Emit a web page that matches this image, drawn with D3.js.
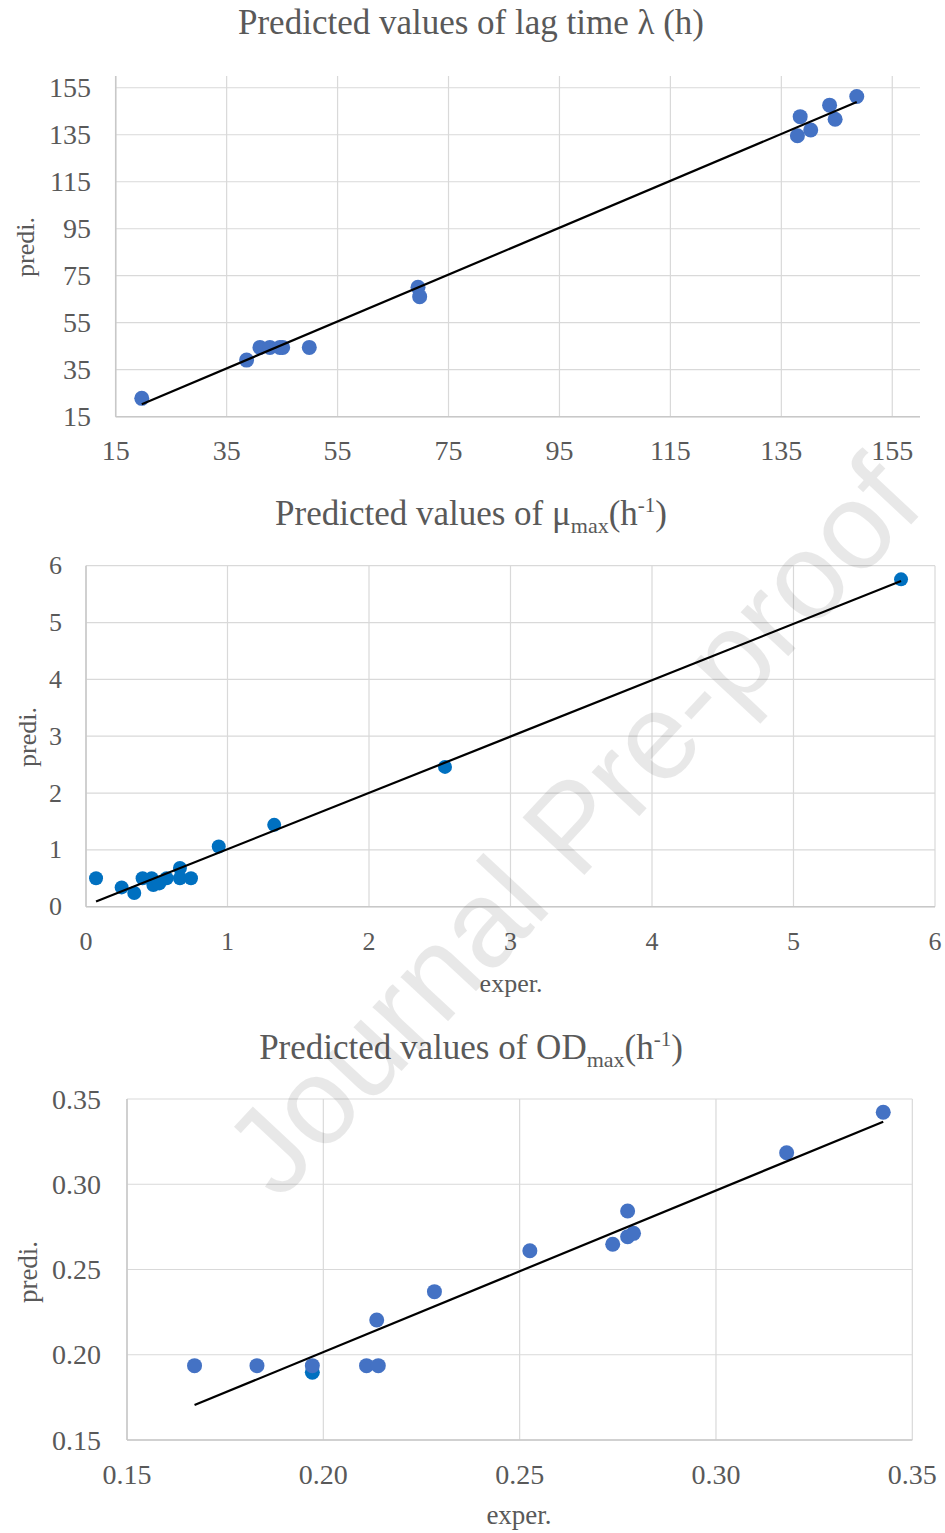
<!DOCTYPE html>
<html>
<head>
<meta charset="utf-8">
<script src="https://cdn.jsdelivr.net/npm/d3@7"></script>
<style>
  html, body { margin: 0; padding: 0; background: #fff; }
  svg { display: block; }
  text { font-family: "Liberation Serif", "Times New Roman", serif; fill: #595959; }
</style>
</head>
<body>
<script>
// lag time λ (h)
const lagExper = [19.7, 38.6, 41.0, 42.8, 44.6, 45.1, 49.9, 69.5, 69.8, 138.4, 137.9, 140.3, 143.7, 144.7, 148.6];
const lagPredi = [22.8, 39.1, 44.5, 44.5, 44.5, 44.5, 44.5, 70.1, 66.1, 142.7, 134.6, 137.0, 147.6, 141.6, 151.3];
const lagFit = [[19.7, 20.3], [148.6, 148.9]];
const lagTicks = [15, 35, 55, 75, 95, 115, 135, 155];

// μmax (h-1)
const muExper = [0.071, 0.252, 0.341, 0.40, 0.464, 0.476, 0.518, 0.57, 0.664, 0.664, 0.742, 0.938, 1.33, 2.537, 5.76];
const muPredi = [0.50, 0.34, 0.24, 0.50, 0.50, 0.38, 0.41, 0.50, 0.68, 0.50, 0.50, 1.06, 1.44, 2.46, 5.76];
const muFit = [[0.071, 0.09], [5.76, 5.73]];
const muTicks = [0, 1, 2, 3, 4, 5, 6];

// ODmax
const odExper = [0.1672, 0.1831, 0.1972, 0.2110, 0.2140, 0.2136, 0.2283, 0.2526, 0.2737, 0.2775, 0.2775, 0.2790, 0.3180, 0.3426];
const odPredi = [0.1936, 0.1936, 0.1936, 0.1936, 0.1936, 0.2204, 0.2370, 0.2610, 0.2648, 0.2843, 0.2692, 0.2712, 0.3185, 0.3422];
const odExper2 = [0.1972];
const odPredi2 = [0.1897];
const odFit = [[0.1672, 0.1705], [0.3426, 0.3367]];
const odTicks = [0.15, 0.20, 0.25, 0.30, 0.35];

const W = 945, H = 1533;
const svg = d3.select('body').append('svg').attr('width', W).attr('height', H);

function panel(o) {
  const x = d3.scaleLinear().domain(o.xDomain).range([o.left, o.right]);
  const y = d3.scaleLinear().domain(o.yDomain).range([o.bottom, o.top]);
  const g = svg.append('g');

  // grid
  g.append('g').selectAll('line').data(o.ticks).join('line')
      .attr('x1', o.left).attr('x2', o.right)
      .attr('y1', d => y(d)).attr('y2', d => y(d))
      .attr('stroke', '#d9d9d9').attr('stroke-width', 1.2);
  g.append('g').selectAll('line').data(o.ticks).join('line')
      .attr('x1', d => x(d)).attr('x2', d => x(d))
      .attr('y1', o.top).attr('y2', o.bottom)
      .attr('stroke', '#d9d9d9').attr('stroke-width', 1.2);

  // axis lines
  g.append('line').attr('x1', o.left).attr('x2', o.left).attr('y1', o.top).attr('y2', o.bottom)
      .attr('stroke', '#c8c8c8').attr('stroke-width', 1.5);
  g.append('line').attr('x1', o.left).attr('x2', o.right).attr('y1', o.bottom).attr('y2', o.bottom)
      .attr('stroke', '#c8c8c8').attr('stroke-width', 1.5);

  // tick labels
  g.append('g').selectAll('text').data(o.ticks).join('text')
      .attr('x', o.yLabelX).attr('y', d => y(d))
      .attr('text-anchor', 'end').attr('dominant-baseline', 'central')
      .style('font-size', o.fontSize + 'px')
      .text(o.fmt);
  g.append('g').selectAll('text').data(o.ticks).join('text')
      .attr('x', d => x(d)).attr('y', o.xLabelY)
      .attr('text-anchor', 'middle').attr('dominant-baseline', 'central')
      .style('font-size', o.fontSize + 'px')
      .text(o.fmt);

  // points
  o.series.forEach(s => {
    g.append('g').selectAll('circle').data(s.xs).join('circle')
        .attr('cx', d => x(d)).attr('cy', (d, i) => y(s.ys[i]))
        .attr('r', o.r).attr('fill', s.color);
  });

  // trend line
  g.append('path').datum(o.fit)
      .attr('d', d3.line().x(d => x(d[0])).y(d => y(d[1])))
      .attr('stroke', '#000').attr('stroke-width', 2.2).attr('fill', 'none');

  // titles
  const t = g.append('text').attr('x', o.titleX).attr('y', o.titleY)
      .attr('text-anchor', 'middle').style('font-size', '35px');
  o.title(t);

  g.append('text')
      .attr('transform', `translate(${o.predX},${o.predY}) rotate(-90)`)
      .attr('text-anchor', 'middle').attr('dominant-baseline', 'central')
      .style('font-size', o.labelSize + 'px').text('predi.');
  if (o.experY) {
    g.append('text').attr('x', o.experX).attr('y', o.experY)
        .attr('text-anchor', 'middle').attr('dominant-baseline', 'central')
        .style('font-size', o.labelSize + 'px').text('exper.');
  }
}

function subTitle(name) {
  return t => {
    t.append('tspan').text('Predicted values of ' + name);
    t.append('tspan').attr('dy', 8).style('font-size', '22px').text('max');
    t.append('tspan').attr('dy', -8).text('(h');
    t.append('tspan').attr('dy', -13).style('font-size', '21px').text('-1');
    t.append('tspan').attr('dy', 13).text(')');
  };
}

panel({
  xDomain: [15, 160], yDomain: [15, 160],
  left: 115.7, right: 920, top: 76, bottom: 416.7,
  ticks: lagTicks, fmt: d3.format('d'), fontSize: 28, labelSize: 26,
  yLabelX: 91, xLabelY: 450,
  series: [{ xs: lagExper, ys: lagPredi, color: '#4472c4' }],
  r: 7.5, fit: lagFit,
  titleX: 471, titleY: 34,
  title: t => t.text('Predicted values of lag time λ (h)'),
  predX: 25, predY: 247
});

panel({
  xDomain: [0, 6], yDomain: [0, 6],
  left: 86, right: 935, top: 565.7, bottom: 906.7,
  ticks: muTicks, fmt: d3.format('d'), fontSize: 26, labelSize: 26,
  yLabelX: 62, xLabelY: 941,
  series: [{ xs: muExper, ys: muPredi, color: '#0070c0' }],
  r: 7, fit: muFit,
  titleX: 471, titleY: 525,
  title: subTitle('μ'),
  predX: 27, predY: 737,
  experX: 511, experY: 983
});

panel({
  xDomain: [0.15, 0.35], yDomain: [0.15, 0.35],
  left: 127, right: 912.3, top: 1099, bottom: 1440,
  ticks: odTicks, fmt: d3.format('.2f'), fontSize: 28, labelSize: 27,
  yLabelX: 101, xLabelY: 1474,
  series: [
    { xs: odExper2, ys: odPredi2, color: '#0070c0' },
    { xs: odExper, ys: odPredi, color: '#4472c4' }
  ],
  r: 7.5, fit: odFit,
  titleX: 471, titleY: 1059,
  title: subTitle('OD'),
  predX: 28, predY: 1272,
  experX: 519, experY: 1515
});

// watermark
svg.append('text')
    .attr('transform', 'translate(572,826) rotate(-47)')
    .attr('text-anchor', 'middle').attr('dominant-baseline', 'central')
    .style('font-family', '"Liberation Sans", Arial, sans-serif')
    .style('font-size', '123px')
    .style('fill', '#000').style('fill-opacity', 0.09)
    .text('Journal Pre-proof');
</script>
</body>
</html>
